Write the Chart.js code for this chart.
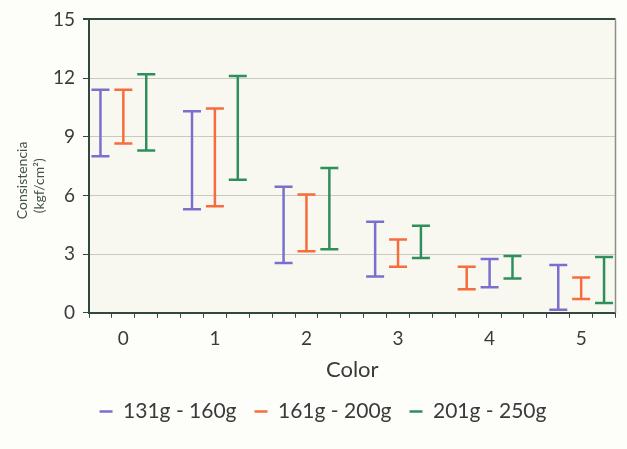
<!DOCTYPE html>
<html>
<head>
<meta charset="utf-8">
<script src="https://cdn.jsdelivr.net/npm/chart.js@4.4.1/dist/chart.umd.min.js"></script>
<style>
    html, body { margin: 0; padding: 0; background: #fdfdf9; }
    #wrap { width: 627px; height: 449px; position: relative; }
</style>
</head>
<body>
<div id="wrap"><canvas id="myChart"></canvas></div>
<script>
const categories = ['0', '1', '2', '3', '4', '5']
const seriesNames = ['131g - 160g', '161g - 200g', '201g - 250g']
const seriesColors = ['#7a6fcf', '#f66c3c', '#2f8f5c']

// min / max of each range
const low131 = [8.0, 5.3, 2.55, 1.85, 1.3, 0.15]
const high131 = [11.4, 10.3, 6.45, 4.65, 2.75, 2.45]
const low161 = [8.65, 5.45, 3.15, 2.35, 1.2, 0.7]
const high161 = [11.4, 10.45, 6.05, 3.75, 2.35, 1.8]
const low201 = [8.3, 6.8, 3.25, 2.8, 1.75, 0.5]
const high201 = [12.2, 12.1, 7.4, 4.45, 2.9, 2.85]

// order of the three bars inside each group (group 4 has the first two swapped)
const slotOrder = [[0, 1, 2], [0, 1, 2], [0, 1, 2], [0, 1, 2], [1, 0, 2], [0, 1, 2]]
const yTicks = [0, 3, 6, 9, 12, 15]

const lows = [low131, low161, low201]
const highs = [high131, high161, high201]
const slotShift = [-0.25, 0, 0.25]
const axisColor = '#2f4a3c'
const textColor = '#3a3a3a'
const padLeft = 28

function rangePoints(k) {
    const pts = []
    for (let i = 0; i < categories.length; i++) {
        const x = i + slotShift[slotOrder[i].indexOf(k)]
        pts.push({ x: x, y: lows[k][i] })
        pts.push({ x: x, y: highs[k][i] })
        pts.push({ x: x, y: null })
    }
    return pts
}

const datasets = seriesNames.map((name, k) => ({
    label: name,
    data: rangePoints(k),
    showLine: true,
    spanGaps: false,
    borderColor: seriesColors[k],
    backgroundColor: seriesColors[k],
    borderWidth: 2.5,
    pointStyle: 'line',
    pointRadius: 9,
    pointHoverRadius: 9,
    pointBorderWidth: 2.5,
    pointBorderColor: seriesColors[k]
}))

const areaBg = {
    id: 'areaBg',
    beforeDraw(chart) {
        const a = chart.chartArea
        const c = chart.ctx
        c.save()
        c.fillStyle = '#f8f8f1'
        c.fillRect(a.left, a.top, a.right - a.left, a.bottom - a.top)
        c.restore()
    },
    afterDraw(chart) {
        const a = chart.chartArea
        const c = chart.ctx
        c.save()
        c.strokeStyle = '#8a8f88'
        c.lineWidth = 1.5
        c.beginPath()
        c.moveTo(a.right, a.top)
        c.lineTo(a.right, a.bottom)
        c.stroke()
        c.restore()
    }
}

const cfg = {
    type: 'scatter',
    data: { datasets: datasets },
    plugins: [areaBg],
    options: {
        responsive: true,
        maintainAspectRatio: false,
        animation: false,
        layout: { padding: { left: padLeft, top: 16, right: 9, bottom: 17 } },
        scales: {
            x: {
                type: 'linear',
                min: -0.375,
                max: 5.375,
                afterBuildTicks: (axis) => {
                    const t = []
                    for (let k = 0; k <= 23; k++) t.push({ value: -0.375 + k * 0.25 })
                    categories.forEach((c, i) => t.push({ value: i }))
                    t.sort((a, b) => a.value - b.value)
                    axis.ticks = t
                },
                ticks: {
                    autoSkip: false,
                    maxRotation: 0,
                    padding: 10,
                    color: textColor,
                    font: { family: 'Lato', size: 19 },
                    callback: (v) => Number.isInteger(v) ? categories[v] : ''
                },
                grid: {
                    drawOnChartArea: false,
                    tickLength: 5,
                    color: (ctx) => ctx.tick && Number.isInteger(ctx.tick.value) ? 'rgba(0,0,0,0)' : axisColor
                },
                border: { color: axisColor, width: 2 },
                title: {
                    display: true,
                    text: 'Color',
                    color: textColor,
                    font: { family: 'Lato', size: 22 },
                    padding: { top: -4, bottom: 0 }
                }
            },
            y: {
                min: 0,
                max: 15,
                afterBuildTicks: (axis) => {
                    axis.ticks = yTicks.map(v => ({ value: v }))
                },
                afterFit: (axis) => { axis.width = 89 - padLeft },
                ticks: {
                    padding: 8,
                    color: textColor,
                    font: { family: 'Lato', size: 19 }
                },
                grid: {
                    tickLength: 6,
                    tickColor: axisColor,
                    color: (ctx) => {
                        if (!ctx.tick) return '#c9c9bf'
                        if (ctx.tick.value === 15) return axisColor
                        if (ctx.tick.value === 0) return 'rgba(0,0,0,0)'
                        return '#c9c9bf'
                    },
                    lineWidth: (ctx) => ctx.tick && ctx.tick.value === 15 ? 2 : 1
                },
                border: { color: axisColor, width: 2 },
                title: {
                    display: true,
                    text: ['Consistencia\u00a0\u00a0\u00a0\u00a0\u00a0\u00a0\u00a0\u00a0', '(kgf/cm\u00b2)\u00a0\u00a0\u00a0\u00a0\u00a0\u00a0\u00a0\u00a0\u00a0\u00a0\u00a0'],
                    color: '#44524a',
                    font: { family: 'Lato', size: 14, lineHeight: 1.2 },
                    padding: { top: 14 - padLeft, bottom: 0 }
                }
            }
        },
        plugins: {
            legend: {
                position: 'bottom',
                labels: {
                    usePointStyle: true,
                    pointStyleWidth: 13,
                    boxHeight: 10,
                    padding: 18,
                    color: textColor,
                    font: { family: 'Lato', size: 21 }
                }
            },
            tooltip: { enabled: false }
        }
    }
}

const ctx = document.getElementById('myChart').getContext('2d')
// eslint-disable-next-line no-undef
const myChart = new Chart(ctx, cfg)
</script>
</body>
</html>
